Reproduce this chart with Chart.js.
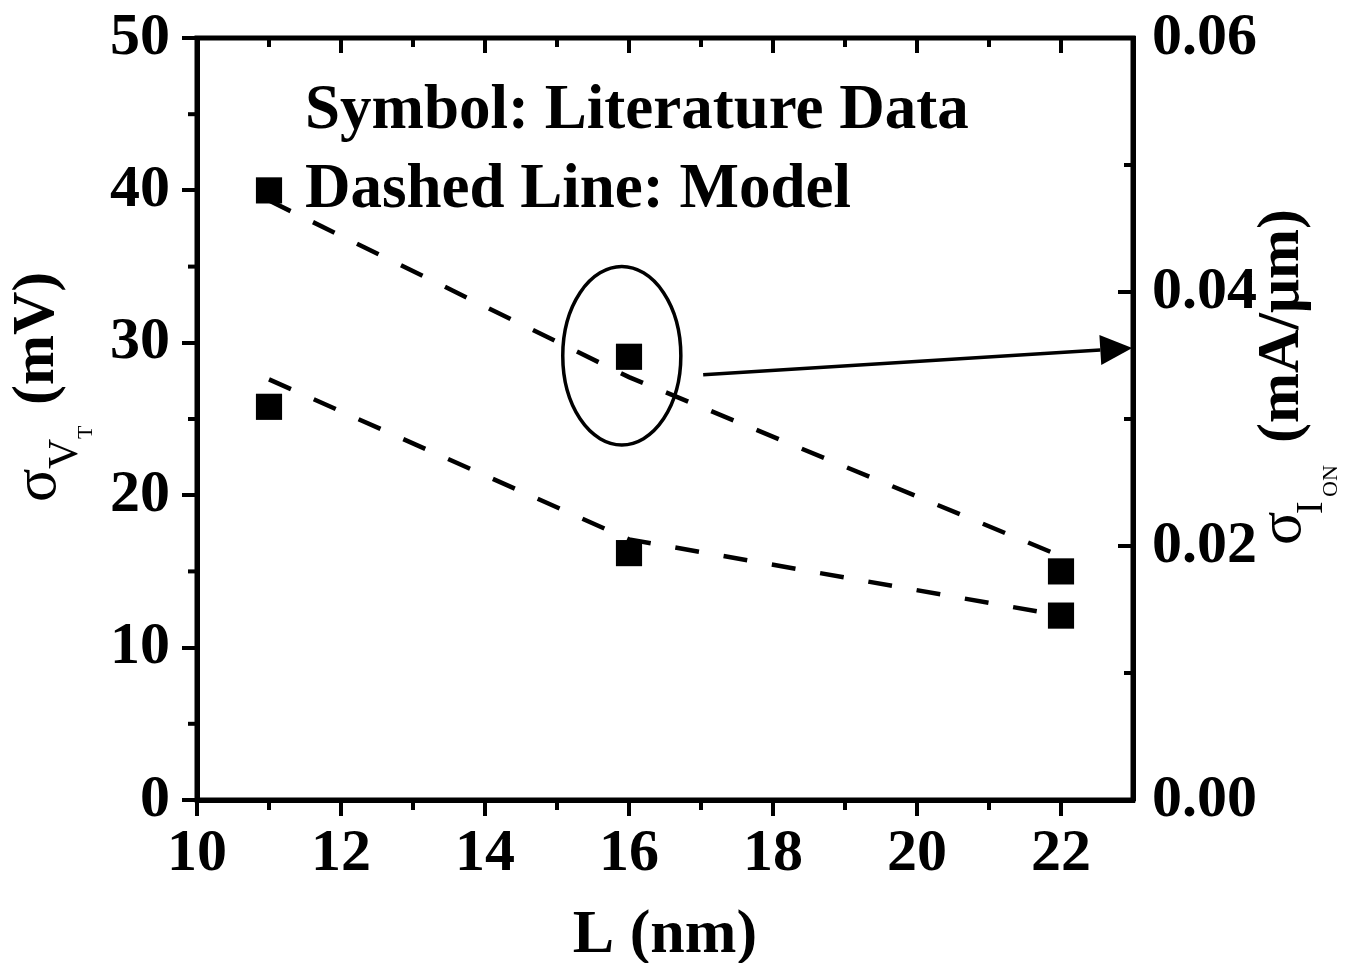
<!DOCTYPE html>
<html>
<head>
<meta charset="utf-8">
<script src="https://cdn.jsdelivr.net/npm/chart.js@4.4.1/dist/chart.umd.min.js"></script>
<style>
  html, body { margin: 0; padding: 0; background: #fff; }
  #wrap { width: 1348px; height: 963px; position: relative; }
</style>
</head>
<body>
<div id="wrap"><canvas id="chart"></canvas></div>
<script>
// ---- data ----
const lengths = [11, 16, 22]; // L (nm)

// symbols: literature data
const sigmaVtData = [25.8, 16.2, 12.1];     // mV, left axis
const sigmaIonData = [0.048, 0.0349, 0.018]; // mA/um, right axis

// dashed lines: model
const sigmaVtModel = [27.6, 17.1, 12.1];
const sigmaIonModel = [0.0472, 0.0333, 0.0192];

// axis ticks
const xTicks = [10, 12, 14, 16, 18, 20, 22];
const xMinorTicks = [11, 13, 15, 17, 19, 21];
const yTicks = [0, 10, 20, 30, 40, 50];
const yMinorTicks = [5, 15, 25, 35, 45];
const y2Ticks = [0, 0.02, 0.04, 0.06];
const y2MinorTicks = [0.01, 0.03, 0.05];

const SERIF = "'Liberation Serif', 'Times New Roman', serif";
const INK = "#000";

const pts = (ys) => lengths.map((x, i) => ({ x, y: ys[i] }));

// ---- annotations (data units) ----
const ELLIPSE = { x: 15.9, y: 29.15, rx: 0.82, ry: 5.85 };
const ARROW = { x1: 17.03, y1: 27.9, x2: 22.99, y2: 29.66 };
const NOTES = [
  { text: "Symbol: Literature Data", x: 11.5, y: 44.1 },
  { text: "Dashed Line: Model", x: 11.5, y: 38.9 },
];

// ---------------------------------------------------------------------------
// Custom drawing: frame, minor / mirrored ticks, ellipse, arrow, titles
// ---------------------------------------------------------------------------
const decorPlugin = {
  id: "decor",
  afterDraw(chart) {
    const { ctx, chartArea: a, scales } = chart;
    const xs = scales.x, ys = scales.y, y2s = scales.y2;
    ctx.save();
    ctx.strokeStyle = INK;
    ctx.fillStyle = INK;

    // frame
    ctx.lineWidth = 5;
    ctx.strokeRect(a.left, a.top, a.right - a.left, a.bottom - a.top);

    const tick = (x1, y1, x2, y2) => {
      ctx.beginPath();
      ctx.moveTo(x1, y1);
      ctx.lineTo(x2, y2);
      ctx.stroke();
    };
    ctx.lineWidth = 4;
    // bottom minor (outward)
    xMinorTicks.forEach((v) => { const px = xs.getPixelForValue(v); tick(px, a.bottom, px, a.bottom + 10); });
    // left minor (outward)
    yMinorTicks.forEach((v) => { const py = ys.getPixelForValue(v); tick(a.left, py, a.left - 9, py); });
    // top (inward)
    xTicks.forEach((v) => { const px = xs.getPixelForValue(v); tick(px, a.top, px, a.top + 15); });
    xMinorTicks.forEach((v) => { const px = xs.getPixelForValue(v); tick(px, a.top, px, a.top + 9); });
    // right (inward)
    y2Ticks.forEach((v) => { const py = y2s.getPixelForValue(v); tick(a.right, py, a.right - 15, py); });
    y2MinorTicks.forEach((v) => { const py = y2s.getPixelForValue(v); tick(a.right, py, a.right - 9, py); });

    // ellipse around the 16 nm ION point
    const cx = xs.getPixelForValue(ELLIPSE.x), cy = ys.getPixelForValue(ELLIPSE.y);
    const rx = xs.getPixelForValue(ELLIPSE.x + ELLIPSE.rx) - cx;
    const ry = cy - ys.getPixelForValue(ELLIPSE.y + ELLIPSE.ry);
    ctx.lineWidth = 3.5;
    ctx.beginPath();
    ctx.ellipse(cx, cy, rx, ry, 0, 0, Math.PI * 2);
    ctx.stroke();

    // arrow pointing to the right axis
    const ax1 = xs.getPixelForValue(ARROW.x1), ay1 = ys.getPixelForValue(ARROW.y1);
    const ax2 = xs.getPixelForValue(ARROW.x2), ay2 = ys.getPixelForValue(ARROW.y2);
    const ang = Math.atan2(ay2 - ay1, ax2 - ax1);
    const headLen = 32, headW = 15;
    const bx = ax2 - headLen * Math.cos(ang), by = ay2 - headLen * Math.sin(ang);
    tick(ax1, ay1, bx, by);
    ctx.beginPath();
    ctx.moveTo(ax2, ay2);
    ctx.lineTo(bx + headW * Math.sin(ang), by - headW * Math.cos(ang));
    ctx.lineTo(bx - headW * Math.sin(ang), by + headW * Math.cos(ang));
    ctx.closePath();
    ctx.fill();

    // legend-like notes
    ctx.font = "bold 63px " + SERIF;
    ctx.textBaseline = "alphabetic";
    ctx.textAlign = "left";
    NOTES.forEach((n) => ctx.fillText(n.text, xs.getPixelForValue(n.x), ys.getPixelForValue(n.y)));

    // rotated axis titles: x' runs up the page, y' runs to the right
    const rotText = (parts) => {
      ctx.save();
      ctx.rotate(-Math.PI / 2);
      parts.forEach((p) => {
        ctx.font = p.font;
        ctx.fillText(p.text, -p.y, p.x);
      });
      ctx.restore();
    };
    rotText([
      { text: "\u03c3", font: "62px " + SERIF, x: 55, y: 502 },
      { text: "V", font: "42px " + SERIF, x: 77, y: 469 },
      { text: "T", font: "22px " + SERIF, x: 92, y: 439 },
      { text: "(mV)", font: "bold 60px " + SERIF, x: 53, y: 405 },
    ]);
    rotText([
      { text: "\u03c3", font: "62px " + SERIF, x: 1300, y: 545 },
      { text: "I", font: "38px " + SERIF, x: 1322, y: 514 },
      { text: "ON", font: "22px " + SERIF, x: 1337, y: 497 },
      { text: "(mA/\u03bcm)", font: "bold 60px " + SERIF, x: 1298, y: 443 },
    ]);

    // x title
    ctx.font = "bold 62px " + SERIF;
    ctx.textAlign = "center";
    ctx.fillText("L (nm)", (a.left + a.right) / 2, 952);
    ctx.restore();
  },
};

const tickFont = { family: SERIF, weight: "bold", size: 60 };

// keep the plot box fixed: no automatic label overhang padding
const noPad = (s) => { s.paddingTop = 0; s.paddingBottom = 0; };

new Chart(document.getElementById("chart"), {
  type: "scatter",
  data: {
    datasets: [
      {
        label: "sigma ION data",
        data: pts(sigmaIonData),
        yAxisID: "y2",
        showLine: false,
        pointStyle: "rect",
        pointRadius: 18.5,
        pointBorderWidth: 0,
        backgroundColor: INK,
      },
      {
        label: "sigma VT data",
        data: pts(sigmaVtData),
        yAxisID: "y",
        showLine: false,
        pointStyle: "rect",
        pointRadius: 18.5,
        pointBorderWidth: 0,
        backgroundColor: INK,
      },
      {
        label: "sigma ION model",
        data: pts(sigmaIonModel),
        yAxisID: "y2",
        showLine: true,
        borderColor: INK,
        borderWidth: 4.5,
        borderDash: [24, 25],
        pointRadius: 0,
        tension: 0,
      },
      {
        label: "sigma VT model",
        data: pts(sigmaVtModel),
        yAxisID: "y",
        showLine: true,
        borderColor: INK,
        borderWidth: 4.5,
        borderDash: [24, 25],
        pointRadius: 0,
        tension: 0,
      },
    ],
  },
  options: {
    responsive: true,
    maintainAspectRatio: false,
    animation: false,
    layout: { padding: { top: 38, left: 0, right: 0, bottom: 0 } },
    plugins: {
      legend: { display: false },
      tooltip: { enabled: false },
    },
    scales: {
      x: {
        type: "linear",
        position: "bottom",
        min: 10,
        max: 23,
        afterBuildTicks: (s) => { s.ticks = xTicks.map((v) => ({ value: v })); },
        afterFit: (s) => { s.height = 163; s.paddingLeft = 0; s.paddingRight = 0; },
        ticks: { font: tickFont, color: INK, padding: 2, autoSkip: false, maxRotation: 0 },
        grid: { display: true, drawOnChartArea: false, drawTicks: true, tickLength: 16, lineWidth: 4, color: INK },
        border: { display: true, width: 5, color: INK },
      },
      y: {
        type: "linear",
        position: "left",
        min: 0,
        max: 50,
        afterBuildTicks: (s) => { s.ticks = yTicks.map((v) => ({ value: v })); },
        afterFit: (s) => { s.width = 197; noPad(s); },
        ticks: { font: tickFont, color: INK, padding: 12 },
        grid: { display: true, drawOnChartArea: false, drawTicks: true, tickLength: 15, lineWidth: 4, color: INK },
        border: { display: true, width: 5, color: INK },
      },
      y2: {
        type: "linear",
        position: "right",
        min: 0,
        max: 0.06,
        afterBuildTicks: (s) => { s.ticks = y2Ticks.map((v) => ({ value: v })); },
        afterFit: (s) => { s.width = 215; noPad(s); },
        ticks: { font: tickFont, color: INK, padding: 19, callback: (v) => v.toFixed(2) },
        grid: { display: false, drawOnChartArea: false, drawTicks: false, tickLength: 0 },
        border: { display: true, width: 5, color: INK },
      },
    },
  },
  plugins: [decorPlugin],
});
</script>
</body>
</html>
